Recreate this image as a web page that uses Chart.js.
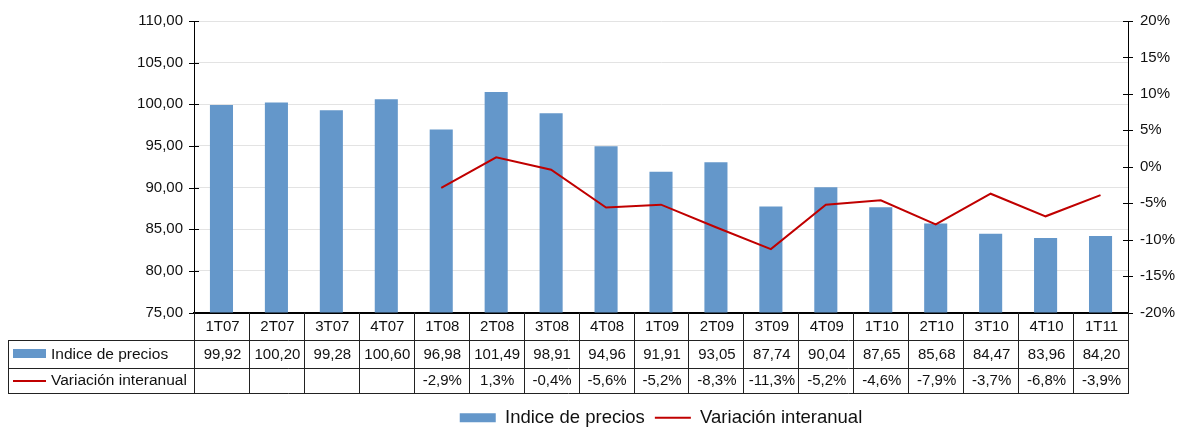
<!DOCTYPE html>
<html>
<head>
<meta charset="utf-8">
<script src="https://cdn.jsdelivr.net/npm/chart.js@4/dist/chart.umd.min.js"></script>
<style>
html,body{margin:0;padding:0;background:#fff;}
#wrap{width:1177px;height:428px;position:relative;}
</style>
</head>
<body>
<div id="wrap"><canvas id="c" width="1177" height="428"></canvas></div>
<script>
const categories = ['1T07','2T07','3T07','4T07','1T08','2T08','3T08','4T08','1T09','2T09','3T09','4T09','1T10','2T10','3T10','4T10','1T11'];
const indiceValues = [99.92,100.20,99.28,100.60,96.98,101.49,98.91,94.96,91.91,93.05,87.74,90.04,87.65,85.68,84.47,83.96,84.20];
const variacionValues = [null,null,null,null,-2.9,1.3,-0.4,-5.6,-5.2,-8.3,-11.3,-5.2,-4.6,-7.9,-3.7,-6.8,-3.9];
const seriesNames = ['Indice de precios','Variación interanual'];

const BAR_COLOR = '#6497CA';
const LINE_COLOR = '#C00000';
const FONT = "'Liberation Sans', Arial, sans-serif";
const TEXT = '#111';

const fmtNum = v => v.toFixed(2).replace('.', ',');
const fmtPct = v => v.toFixed(1).replace('.', ',') + '%';

const tablePlugin = {
  id: 'dataTable',
  afterDraw(chart) {
    const ctx = chart.ctx;
    const xs = chart.scales.x;
    const yl = chart.scales.y;
    const yr = chart.scales.y1;
    const ca = chart.chartArea;
    const n = categories.length;
    const cw = xs.getPixelForValue(1) - xs.getPixelForValue(0);
    const y0 = ca.bottom, y1 = y0 + 27, y2 = y1 + 28, y3 = y2 + 25;
    const L = 8;
    const c = v => Math.round(v) + 0.5;
    ctx.save();
    ctx.strokeStyle = '#000';
    ctx.lineWidth = 1;
    ctx.beginPath();
    yl.ticks.forEach(t => { const y = c(yl.getPixelForValue(t.value)); ctx.moveTo(ca.left - 5, y); ctx.lineTo(ca.left + 5, y); });
    yr.ticks.forEach(t => { const y = c(yr.getPixelForValue(t.value)); ctx.moveTo(ca.right - 5, y); ctx.lineTo(ca.right + 5, y); });
    ctx.stroke();

    ctx.strokeStyle = '#222';
    ctx.beginPath();
    [y1, y2, y3].forEach(y => { ctx.moveTo(L, c(y)); ctx.lineTo(ca.right + 1, c(y)); });
    ctx.moveTo(c(L), c(y1)); ctx.lineTo(c(L), c(y3));
    for (let i = 0; i <= n; i++) {
      const x = c(xs.getPixelForValue(0) - cw / 2 + i * cw);
      ctx.moveTo(x, y0); ctx.lineTo(x, c(y3));
    }
    ctx.stroke();

    ctx.fillStyle = TEXT;
    ctx.font = '15px ' + FONT;
    ctx.textAlign = 'center';
    ctx.textBaseline = 'middle';
    for (let i = 0; i < n; i++) {
      const x = xs.getPixelForValue(i) + 1;
      ctx.fillText(categories[i], x, (y0 + y1) / 2 + 1);
      ctx.fillText(fmtNum(indiceValues[i]), x, (y1 + y2) / 2 + 1);
      if (variacionValues[i] !== null) ctx.fillText(fmtPct(variacionValues[i]), x, (y2 + y3) / 2 + 1);
    }
    ctx.textAlign = 'left';
    ctx.font = '15.5px ' + FONT;
    ctx.fillStyle = BAR_COLOR;
    ctx.fillRect(13, (y1 + y2) / 2 - 4.5, 33, 9);
    ctx.strokeStyle = LINE_COLOR;
    ctx.lineWidth = 2;
    ctx.beginPath();
    ctx.moveTo(13, (y2 + y3) / 2 + 1); ctx.lineTo(46, (y2 + y3) / 2 + 1);
    ctx.stroke();
    ctx.fillStyle = TEXT;
    ctx.fillText(seriesNames[0], 51, (y1 + y2) / 2 + 1);
    ctx.fillText(seriesNames[1], 51, (y2 + y3) / 2 + 1);
    ctx.restore();
  }
};

new Chart(document.getElementById('c'), {
  data: {
    labels: categories,
    datasets: [
      {
        type: 'bar',
        label: seriesNames[0],
        data: indiceValues,
        backgroundColor: BAR_COLOR,
        borderWidth: 0,
        barPercentage: 0.84,
        categoryPercentage: 0.5,
        yAxisID: 'y',
        order: 2,
        pointStyle: 'rect'
      },
      {
        type: 'line',
        label: seriesNames[1],
        data: variacionValues,
        borderColor: LINE_COLOR,
        backgroundColor: LINE_COLOR,
        borderWidth: 2,
        pointRadius: 0,
        tension: 0,
        yAxisID: 'y1',
        order: 1,
        pointStyle: 'line'
      }
    ]
  },
  options: {
    responsive: false,
    animation: false,
    devicePixelRatio: 1,
    layout: { padding: { top: 20, left: 0, right: 0, bottom: -9 } },
    plugins: {
      tooltip: { enabled: false },
      legend: {
        position: 'bottom',
        fullSize: false,
        labels: {
          usePointStyle: true,
          pointStyleWidth: 36,
          boxHeight: 9,
          padding: 10,
          color: TEXT,
          font: { family: FONT, size: 18.5 },
          sort: (a, b) => a.datasetIndex - b.datasetIndex
        }
      }
    },
    scales: {
      x: {
        type: 'category',
        offset: true,
        grid: { display: false },
        border: { display: true, color: '#000', width: 2 },
        ticks: { display: false },
        afterFit: s => { s.height = 86; }
      },
      y: {
        type: 'linear',
        position: 'left',
        min: 75, max: 110,
        ticks: { stepSize: 5, padding: 11, color: TEXT, font: { family: FONT, size: 15 }, callback: v => fmtNum(v) },
        grid: { color: '#e3e3e3', drawTicks: false },
        border: { display: true, color: '#000', width: 1 },
        afterFit: s => { s.width = 194; }
      },
      y1: {
        type: 'linear',
        position: 'right',
        min: -20, max: 20,
        ticks: { stepSize: 5, padding: 12, color: TEXT, font: { family: FONT, size: 15 }, callback: v => v + '%' },
        grid: { drawOnChartArea: false, drawTicks: false },
        border: { display: true, color: '#000', width: 1 },
        afterFit: s => { s.width = 49; }
      }
    }
  },
  plugins: [tablePlugin]
});
</script>
</body>
</html>
